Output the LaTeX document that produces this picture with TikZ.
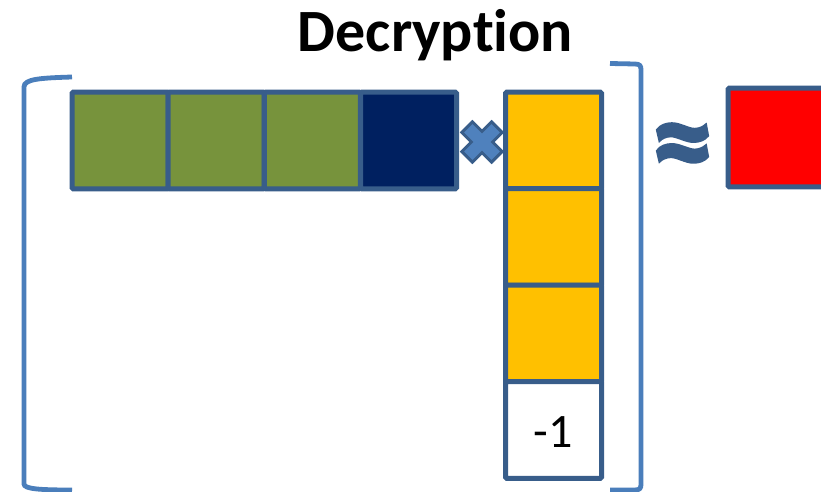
\documentclass[tikz,border=0pt]{standalone}
\usepackage{fontspec}
\setmainfont[Ligatures={NoCommon,NoDiscretionary,NoRare}]{Carlito}
\newfontfamily\approxfont[FakeBold=3]{Carlito Bold}
\definecolor{cellborder}{HTML}{385D8A}
\definecolor{bracketblue}{HTML}{4A7EBB}
\definecolor{crossfill}{HTML}{4F81BD}
\definecolor{greenc}{HTML}{77933C}
\definecolor{navyc}{HTML}{002060}
\definecolor{yellowc}{HTML}{FFC000}
\definecolor{redc}{HTML}{FF0000}
\begin{document}
\begin{tikzpicture}[x=0.75pt,y=-0.75pt,
  cell/.style={draw=cellborder,line width=3.75pt,rounded corners=1pt,minimum width=72pt,minimum height=72.5pt,inner sep=0pt,anchor=center},
  bracket/.style={draw=bracketblue,line width=3.6pt},
  titletext/.style={font=\fontsize{45}{50}\selectfont\bfseries,anchor=base,inner sep=0pt},
  celltext/.style={font=\fontsize{36}{40}\selectfont,anchor=base,inner sep=0pt}]
\clip (0,0) rectangle (821,492);
\fill[white] (0,0) rectangle (821,492);
% title
\node[titletext] (title) at (435.5,52) {Decryption};
% left bracket
\coordinate (lbt) at (72,77);
\coordinate (lbb) at (72,490);
\draw[bracket] (lbt) .. controls (40,78) and (24,79) .. (24,87) -- (24,484) .. controls (24,489) and (40,490) .. (lbb);
% right bracket
\coordinate (rbt) at (610,63.5);
\coordinate (rbb) at (610,490);
\draw[bracket] (rbt) -- (635,64) .. controls (640,64) and (641,66) .. (641,70) -- (641,484) .. controls (641,488) and (640,490) .. (635,490) -- (rbb);
% row vector
\node[cell,fill=greenc] (g1) at (120,140.5) {};
\node[cell,fill=greenc] (g2) at (216.2,140.5) {};
\node[cell,fill=greenc] (g3) at (312.4,140.5) {};
\node[cell,fill=navyc] (n1) at (408.6,140.5) {};
% multiply sign
\begin{scope}[shift={(482,142)},rotate=45]
\filldraw[fill=crossfill,draw=cellborder,line width=2.2pt,line join=miter]
 (-7.5,-21) -- (7.5,-21) -- (7.5,-7.5) -- (21,-7.5) -- (21,7.5) -- (7.5,7.5) -- (7.5,21) -- (-7.5,21) -- (-7.5,7.5) -- (-21,7.5) -- (-21,-7.5) -- (-7.5,-7.5) -- cycle;
\end{scope}
\coordinate (times) at (482,142);
% column vector
\node[cell,fill=yellowc] (y1) at (553.5,140.5) {};
\node[cell,fill=yellowc] (y2) at (553.5,237) {};
\node[cell,fill=yellowc] (y3) at (553.5,333.5) {};
\node[cell,fill=white] (y4) at (553.5,430) {};
\node[celltext] (m1) at (553,447) {-1};
% approx sign
\node[font=\approxfont\fontsize{92}{94}\selectfont,text=cellborder,inner sep=0pt] (approx) at (682.5,153) {≈};
% result
\node[cell,fill=redc,minimum width=90pt,minimum height=74pt] (res) at (788,137.5) {};
\end{tikzpicture}
\end{document}
